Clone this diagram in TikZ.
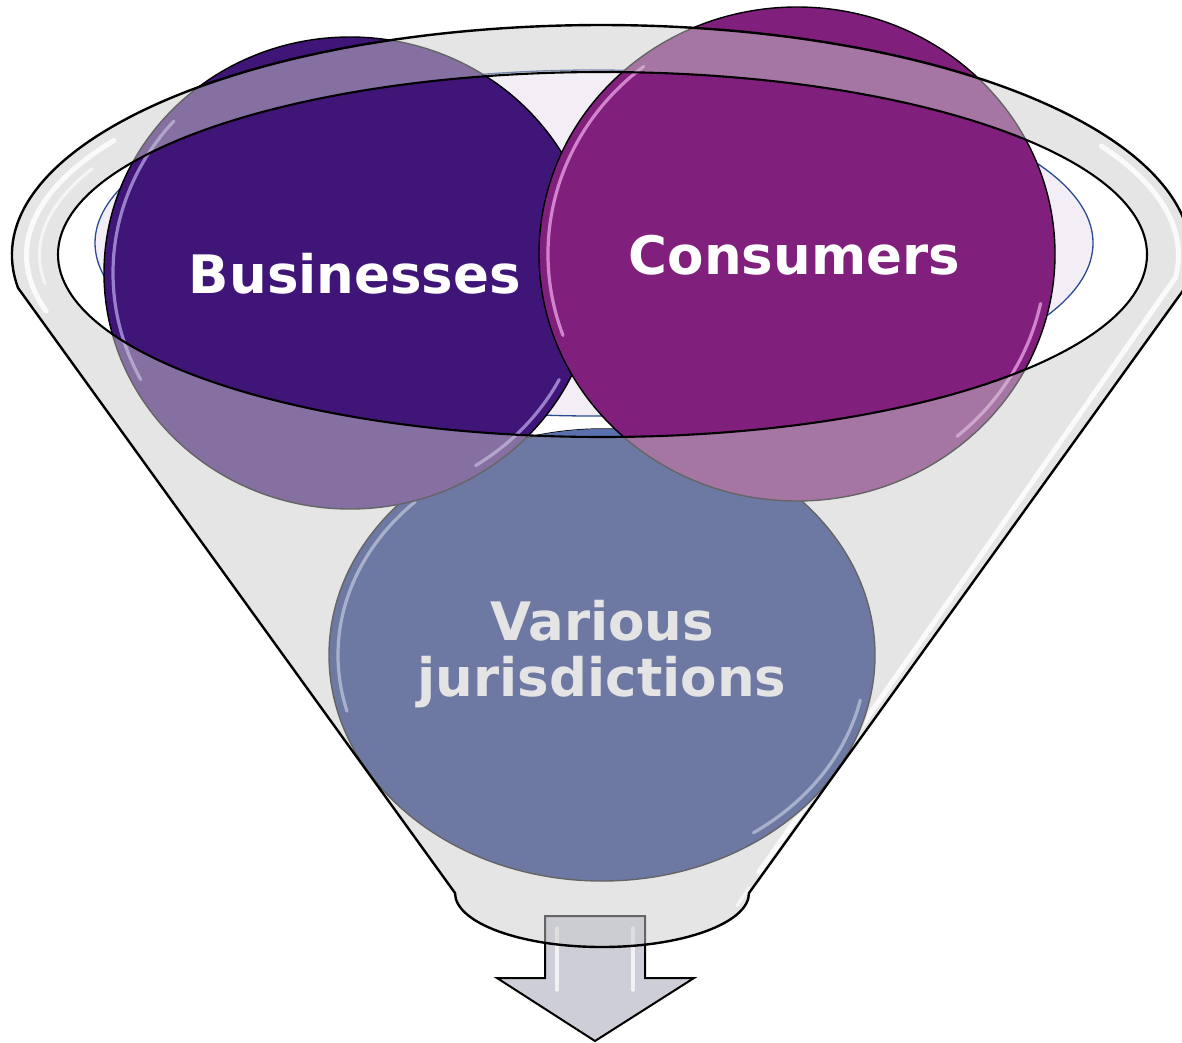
\documentclass[tikz,border=0pt]{standalone}
\usepackage{fontspec}
\setmainfont{DejaVu Sans}
\definecolor{bizD}{HTML}{3F1577}
\definecolor{bizH}{HTML}{C2AEF0}
\definecolor{conD}{HTML}{801F7C}
\definecolor{conH}{HTML}{F4AEF0}
\definecolor{jurD}{HTML}{10287B}
\definecolor{jurL}{HTML}{5A70AC}
\definecolor{jurH}{HTML}{B8C6F2}
\definecolor{ovl}{HTML}{CBCBCB}
\definecolor{lav}{HTML}{F3EEF5}
\definecolor{lavline}{HTML}{2B4A94}
\definecolor{arrowfill}{HTML}{CDCED8}
\begin{document}
\begin{tikzpicture}[x=1pt,y=-1pt,
  funnelshape/.style={insert path={(18.1,288) arc[start angle=171.75,end angle=368.25,x radius=589.5,y radius=230] -- (749,893) arc[start angle=0,end angle=180,x radius=147,y radius=54] -- cycle}},
  innerell/.style={insert path={(602.5,254.5) ellipse[x radius=544.5,y radius=182.5]}},
  jurell/.style={insert path={(602,655) ellipse[x radius=273,y radius=226]}},
  circ/.style={draw=black, line width=1.4},
  gloss/.style={line width=3.2, line cap=round, draw opacity=0.7},
  rimgloss/.style={draw=white, line width=5, line cap=round, draw opacity=0.85},
  lbl/.style={font=\fontsize{53}{56}\selectfont\bfseries, text=white, inner sep=0pt, anchor=base}
]
\useasboundingbox (0,0) rectangle (1182,1042);
\begin{scope}
\clip (0,0) rectangle (1182,1042);
% lavender inner disc of the funnel mouth
\path[fill=lav, draw=lavline, line width=1.3] (594,243) ellipse[x radius=499,y radius=173];
% arrow below the funnel
\path[fill=arrowfill, draw=black, line width=2] (545,916) -- (645,916) -- (645,978) -- (694,978) -- (595,1041) -- (497,978) -- (545,978) -- cycle;
\draw[white, line width=3.5, draw opacity=0.75, line cap=round] (557,928) -- (557,990);
\draw[white, line width=3.5, draw opacity=0.75, line cap=round] (633,928) -- (633,990);
% third circle
\path[circ, fill=jurD, jurell];
\begin{scope}
\clip (602.5,254.5) ellipse[x radius=544.5,y radius=182.5];
\path[fill=jurL, jurell];
\end{scope}
\draw[gloss, draw=jurH] (602,655) ++(165:264 and 217) arc[start angle=165,end angle=225,x radius=264,y radius=217];
\draw[gloss, draw=jurH] (602,655) ++(12:264 and 217) arc[start angle=12,end angle=55,x radius=264,y radius=217];
% Businesses
\path[circ, fill=bizD] (350,273) ellipse[x radius=246,y radius=236];
\draw[gloss, draw=bizH] (350,273) ++(152:237 and 227) arc[start angle=152,end angle=222,x radius=237,y radius=227];
\draw[gloss, draw=bizH] (350,273) ++(28:237 and 227) arc[start angle=28,end angle=58,x radius=237,y radius=227];
% Consumers
\path[circ, fill=conD] (797,254) ellipse[x radius=258,y radius=247];
\draw[gloss, draw=conH] (797,254) ++(160:249 and 238) arc[start angle=160,end angle=232,x radius=249,y radius=238];
\draw[gloss, draw=conH] (797,254) ++(12:249 and 238) arc[start angle=12,end angle=50,x radius=249,y radius=238];
% labels
\node[lbl] (biz) at (355,293) {Businesses};
\node[lbl] (con) at (794.5,274) {Consumers};
\node[lbl] (jur1) at (602,640) {Various};
\node[lbl] (jur2) at (602,696) {jurisdictions};
% translucent funnel body
\fill[ovl, fill opacity=0.5, even odd rule, funnelshape, innerell];
% rim highlights (kept off the third circle)
\begin{scope}[even odd rule]
\clip (0,0) rectangle (1182,1042) (602,655) ellipse[x radius=275,y radius=228];
\draw[rimgloss] (601.5,255) ++(165:575 and 216) arc[start angle=165,end angle=212,x radius=575,y radius=216];
\draw[rimgloss, draw opacity=0.6, line width=3] (601.5,255) ++(172:562 and 204) arc[start angle=172,end angle=205,x radius=562,y radius=204];
\draw[rimgloss] (601.5,255) ++(330:577 and 218) arc[start angle=330,end angle=366,x radius=577,y radius=218] -- (759,872);
\draw[rimgloss, line width=3, draw opacity=0.7] (737,906) -- (749,888);
\end{scope}
% outlines
\draw[black, line width=2.4, funnelshape];
\draw[black, line width=2.1, innerell];
\end{scope}
\end{tikzpicture}
\end{document}
